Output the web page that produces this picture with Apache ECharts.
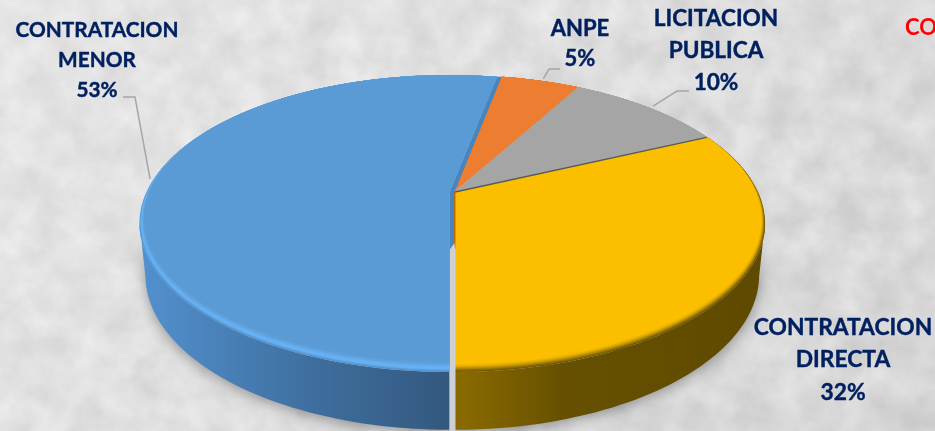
<!DOCTYPE html>
<html>
<head>
<meta charset="utf-8">
<title>Contratacion</title>
<script src="https://cdn.jsdelivr.net/npm/echarts@6/dist/echarts.min.js"></script>
<style>
  html, body { margin: 0; padding: 0; overflow: hidden; }
  body {
    width: 935px;
    height: 431px;
    background-color: #e6e6e6;
    background-image: linear-gradient(125deg, rgba(255,255,255,0.2), rgba(255,255,255,0) 55%, rgba(0,0,0,0.04)),
      url("data:image/svg+xml,%3Csvg xmlns='http://www.w3.org/2000/svg' width='935' height='431'%3E%3Cfilter id='n' color-interpolation-filters='sRGB' x='0' y='0' width='100%25' height='100%25'%3E%3CfeTurbulence type='fractalNoise' baseFrequency='0.03' numOctaves='5' seed='7'/%3E%3CfeColorMatrix type='matrix' values='0.14 0 0 0 0.8 0.14 0 0 0 0.8 0.14 0 0 0 0.8 0 0 0 0 1'/%3E%3C/filter%3E%3Crect width='935' height='431' filter='url(%23n)'/%3E%3C/svg%3E");
  }
  #chart { width: 935px; height: 431px; }
</style>
</head>
<body>
<div id="chart"></div>
<script>
// data, in drawing order (clockwise from firstAngle)
const categories = ["CONTRATACION\nDIRECTA", "CONTRATACION\nMENOR", "ANPE", "LICITACION\nPUBLICA"];
const values = [32, 53, 5, 10];

const firstAngle = 64.8;
const total = values.reduce((a, b) => a + b, 0);

// look of each slice: bevel goes from the outer edge to the flat colour
const bevelColors = [
  ["#6e5500", "#a98200", "#e0aa00", "#fbbf00", "#fbbf00"],
  ["#4f8fcc", "#69b2f6", "#66aeef", "#5fa2de", "#5b9bd5"],
  ["#ed7d31", "#ed7d31"],
  ["#a5a5a5", "#a5a5a5"],
];
const wallStops = [
  [[0, "#8c6c00"], [0.35, "#665000"], [1, "#5e4a00"]],
  [[0, "#5291cf"], [0.55, "#3f6f9f"], [1, "#33587e"]],
  null,
  null,
];
const offsetX = [0, -5.5, 0, 0];
const endLineColors = [null, null, "#c9c9c9", "#595959"];

// label boxes and leader elbows
const labelBoxes = [
  { x: 843, y: 360, lineHeight: 32.5, fontSize: 22.8 },
  { x: 97, y: 60, lineHeight: 30, fontSize: 20.8 },
  { x: 580, y: 44, lineHeight: 30, fontSize: 22 },
  { x: 716, y: 51, lineHeight: 32, fontSize: 22.6 },
];
const elbows = [
  null,
  [[135, 97], [123, 97]],
  [[549, 69], [560, 69]],
  [[677, 91], [689, 91]],
];

// perspective ellipses: flat top, bevel rim, bottom of the wall
const flat = { cx: 455, cy: 192, a: 300, b: 138.6, k: 0.185 };
const rim = { cx: 455, cy: 192, a: 303, b: 141.8, k: 0.212 };
const base = { cx: 455, cy: 244, a: 298, b: 148.6, k: 0.2 };
const bevelSteps = 10;

function project(g, deg, dx, r) {
  const t = (deg * Math.PI) / 180;
  const w = 1 + g.k * Math.cos(t);
  const f = r === undefined ? 1 : r;
  return [g.cx + dx + (f * g.a * Math.sin(t)) / w, g.cy - (f * g.b * Math.cos(t)) / w];
}

function arc(g, from, to, dx) {
  const pts = [];
  const n = Math.max(2, Math.ceil(Math.abs(to - from) / 1.5));
  for (let i = 0; i <= n; i++) pts.push(project(g, from + ((to - from) * i) / n, dx));
  return pts;
}

function sector(g, from, to, dx) {
  return [[g.cx + dx, g.cy]].concat(arc(g, from, to, dx));
}

function between(g1, g2, t) {
  const g = {};
  Object.keys(g1).forEach((key) => (g[key] = g1[key] + (g2[key] - g1[key]) * t));
  return g;
}

// slice start and end angles come from the values
const spans = [];
values.reduce((start, v) => {
  const end = start + (v / total) * 360;
  spans.push([start, end]);
  return end;
}, firstAngle);

function renderSlice(params) {
  const i = params.dataIndex;
  const from = spans[i][0];
  const to = spans[i][1];
  const dx = offsetX[i];
  const children = [];

  // visible part of the side wall
  const wallFrom = Math.max(from, 102);
  const wallTo = Math.min(to, 258);
  if (wallStops[i] && wallTo > wallFrom) {
    const topEdge = arc(rim, wallFrom, wallTo, dx);
    const lowEdge = arc(base, wallTo, wallFrom, dx);
    const xs = topEdge.concat(lowEdge).map((p) => p[0]);
    children.push({
      type: "polygon",
      shape: { points: topEdge.concat(lowEdge) },
      style: {
        fill: new echarts.graphic.LinearGradient(Math.min(...xs), 0, Math.max(...xs), 0,
          wallStops[i].map((s) => ({ offset: s[0], color: s[1] })), true),
        shadowBlur: 14,
        shadowColor: "rgba(0,0,0,0.35)",
        shadowOffsetY: 3,
      },
    });
  }

  // cut face of the pulled out slice, and the gap under it
  if (dx !== 0) {
    const edge = project(flat, to, 0);
    const edgeIn = project(flat, to, dx);
    children.push({
      type: "rect",
      shape: { x: flat.cx + dx, y: flat.cy + 50, width: -dx + 0.5, height: 200 },
      style: { fill: "#cdcfd2" },
    });
    children.push({
      type: "polygon",
      shape: {
        points: [
          [flat.cx, flat.cy], edge, edgeIn, [flat.cx + dx, flat.cy],
          [flat.cx + dx, flat.cy + 58], [flat.cx, flat.cy + 50],
        ],
      },
      style: { fill: "#4a84bd" },
    });
    children.push({
      type: "polygon",
      shape: { points: [[flat.cx - 1, flat.cy], [flat.cx + 0.5, flat.cy], [flat.cx + 0.5, flat.cy + 58], [flat.cx - 1, flat.cy + 50]] },
      style: { fill: "#c06a10" },
    });
  }

  // bevel, outer edge first, ending on the flat top
  for (let s = 0; s <= bevelSteps; s++) {
    const t = s / bevelSteps;
    children.push({
      type: "polygon",
      shape: { points: sector(between(rim, flat, t), from, to, dx) },
      style: { fill: echarts.color.lerp(t, bevelColors[i]) },
    });
  }

  // thin line where this slice meets the next one
  if (endLineColors[i]) {
    children.push({
      type: "polyline",
      shape: { points: [[flat.cx, flat.cy], project(flat, to, dx)] },
      style: { fill: null, stroke: endLineColors[i], lineWidth: 1.3 },
    });
  }

  // leader line starts at the middle of the slice
  if (elbows[i]) {
    const start = project(flat, (from + to) / 2, dx, 1.02);
    children.push({
      type: "polyline",
      shape: { points: [start].concat(elbows[i]) },
      style: { fill: null, stroke: "#a6a6a6", lineWidth: 1.5 },
    });
  }

  const box = labelBoxes[i];
  children.push({
    type: "text",
    z2: 10,
    style: {
      x: box.x,
      y: box.y,
      text: categories[i] + "\n" + values[i] + "%",
      fill: "#002060",
      stroke: "#002060",
      lineWidth: 0.4,
      fontFamily: "Lato",
      fontWeight: "bold",
      fontSize: box.fontSize,
      lineHeight: box.lineHeight,
      align: "center",
      verticalAlign: "middle",
    },
  });

  return { type: "group", children };
}

const myChart = echarts.init(document.getElementById("chart"), null, { renderer: "canvas" });
myChart.setOption({
  backgroundColor: "transparent",
  animation: false,
  graphic: [
    {
      type: "text",
      style: { x: 905, y: 28, text: "CO", fill: "#ff0000", fontFamily: "Lato", fontWeight: "bold", fontSize: 22, verticalAlign: "middle" },
    },
  ],
  series: [
    {
      type: "custom",
      coordinateSystem: "none",
      renderItem: renderSlice,
      data: values,
      silent: true,
    },
  ],
});
</script>
</body>
</html>
